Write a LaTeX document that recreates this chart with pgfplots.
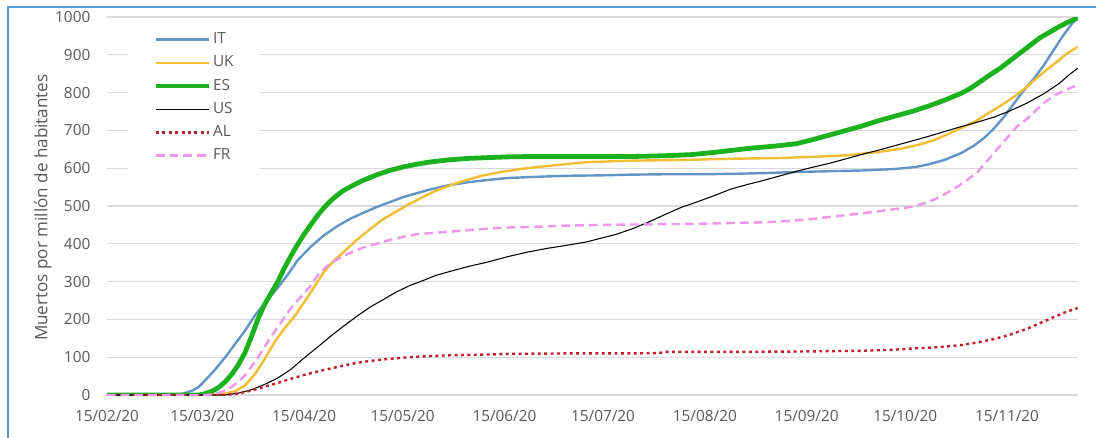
\documentclass[border=0pt]{standalone}
\usepackage{fontspec}
\setmainfont{Open Sans}
\usepackage{pgfplots}
\pgfplotsset{compat=1.18}

\definecolor{itblue}{RGB}{98,148,196}
\definecolor{ukgold}{RGB}{240,190,50}
\definecolor{esgreen}{RGB}{28,178,30}
\definecolor{alred}{RGB}{192,30,45}
\definecolor{frpink}{RGB}{236,150,236}
\definecolor{gridgray}{RGB}{217,217,217}
\definecolor{txtgray}{RGB}{89,89,89}
\definecolor{framebl}{RGB}{91,155,213}

% x = days since 15/02/2020, y = deaths per million inhabitants
\pgfplotstableread{
x y
0 0
20 0
23 3
26 12
28 22
30 40
33 68
36 100
39 135
42 170
45 210
48 243
52 284
55 318
58 356
62 392
66 422
70 446
74 466
78 482
82 497
86 510
90 523
94 533
98 543
104 555
110 563
116 569
122 574
130 577
140 580
150 581
160 583
170 584
180 584
190 585
200 587
210 590
220 592
230 594
240 598
246 603
250 610
255 622
260 640
264 660
267 680
270 705
273 735
276 770
279 805
282 835
285 870
288 910
291 950
294 985
295.5 996
}\tIT

\pgfplotstableread{
x y
0 0
32 0
36 4
39 10
42 25
45 55
48 95
51 140
54 176
57 207
60 245
63 285
66 325
69 355
72 378
76 410
80 438
84 465
88 485
92 505
96 523
100 540
104 553
108 565
114 580
120 590
126 598
132 604
140 611
146 616
160 620
176 622
190 625
205 627
215 630
225 634
235 643
242 652
248 664
252 675
256 690
260 706
264 722
268 744
272 765
276 788
280 815
283 838
286 860
289 880
292 902
295.5 921
}\tUK

\pgfplotstableread{
x y
0 0
28 0
30 4
32 10
34 20
36 35
38 55
40 80
42 112
44 155
46 202
48 240
50 270
52 300
54 336
56 368
58 398
60 425
62 450
64 474
66 495
68 513
70 528
72 541
75 555
78 568
82 582
86 594
90 603
94 610
98 616
104 622
110 626
116 628
122 630
130 631
140 631
150 631
160 631
170 633
178 636
185 642
190 647
195 652
200 656
205 660
210 665
215 676
220 688
225 700
230 712
235 726
240 738
245 750
250 764
255 780
260 798
263 812
266 830
269 848
272 865
275 885
278 905
281 925
284 945
287 960
290 975
293 988
295.5 998
}\tES

\pgfplotstableread{
x y
0 0
36 0
40 5
44 14
48 28
52 45
56 68
60 98
64 126
68 155
72 182
76 208
80 232
84 252
88 272
92 289
96 302
100 316
104 326
110 340
116 352
122 366
128 378
134 388
140 396
146 405
150 414
155 425
160 440
165 458
170 478
175 497
180 512
185 528
190 545
195 557
200 568
205 580
210 592
215 603
220 613
225 625
230 637
235 648
240 660
245 672
250 684
255 697
260 710
265 722
270 735
275 752
280 772
285 796
290 825
293 848
295.5 864
}\tUS

\pgfplotstableread{
x y
0 0
36 0
40 4
44 12
48 22
52 32
56 43
60 53
64 62
68 70
72 78
76 85
80 90
84 94
88 97
92 100
98 103
104 105
115 107
125 109
140 110
160 110
168 111
170 114
190 114
210 115
230 117
240 120
245 123
250 125
255 128
260 132
265 139
270 148
275 160
280 175
284 190
288 205
292 220
295.5 230
}\tAL

\pgfplotstableread{
x y
0 0
30 0
33 3
36 12
38 22
40 35
42 52
44 75
46 100
48 128
50 155
52 180
54 205
56 230
58 250
60 268
62 290
64 315
66 333
68 348
70 358
72 368
74 376
78 390
82 400
86 410
90 418
94 425
98 428
104 432
110 436
116 440
122 443
130 445
140 448
150 450
160 451
170 452
180 453
190 455
200 457
205 459
210 462
215 466
220 471
225 476
230 481
235 486
240 492
245 498
250 510
253 522
256 536
259 552
262 570
265 590
268 620
271 650
274 680
277 710
280 730
283 755
286 778
289 795
292 808
295.5 820
}\tFR

\begin{document}
\begin{tikzpicture}
\useasboundingbox (0,0) rectangle (822pt,327.75pt);
\fill[white] (0,0) rectangle (822pt,327.75pt);
% outer chart frame
\draw[framebl, line width=1.6pt] (6.2pt,-10pt) -- (6.2pt,322.5pt) -- (840pt,322.5pt);

\begin{axis}[
  at={(80.25pt,31.5pt)}, anchor=south west,
  scale only axis, width=728.25pt, height=283.5pt,
  xmin=0, xmax=295.6, ymin=0, ymax=1000,
  axis line style={draw=none},
  major tick style={draw=none},
  ymajorgrids, grid style={gridgray, line width=0.8pt},
  xtick={0,29,60,90,121,151,182,213,243,274},
  xticklabels={15/02/20,15/03/20,15/04/20,15/05/20,15/06/20,15/07/20,15/08/20,15/09/20,15/10/20,15/11/20},
  ytick={0,100,...,1000},
  /pgf/number format/assume math mode=true,
  /pgf/number format/1000 sep={},
  tick label style={font=\fontsize{11.5}{13}\selectfont, text=txtgray},
  yticklabel style={xshift=-9pt},
  xticklabel style={yshift=-8pt},
  legend cell align=left,
  legend image code/.code={\draw[#1] (0pt,0pt) -- (40pt,0pt);},
  legend style={at={(axis description cs:0.0216,0.985)}, anchor=north west,
    draw=none, fill=white, font=\fontsize{11.5}{13}\selectfont, text=txtgray,
    inner xsep=19pt, inner ysep=6pt, row sep=4.4pt,
    nodes={inner sep=1pt, text height=8.5pt, text depth=2.5pt}},
]
\addplot[itblue, line width=1.8pt] table {\tIT};
\addlegendentry{IT}
\addplot[ukgold, line width=1.8pt] table {\tUK};
\addlegendentry{UK}
\addplot[esgreen, line width=3.6pt] table {\tES};
\addlegendentry{ES}
\addplot[black, line width=0.8pt] table {\tUS};
\addlegendentry{US}
\addplot[alred, line width=1.8pt, dash pattern=on 2.2pt off 2.6pt] table {\tAL};
\addlegendentry{AL}
\addplot[frpink, line width=1.8pt, dash pattern=on 6.5pt off 3.8pt] table {\tFR};
\addlegendentry{FR}
\end{axis}

\node[rotate=90, font=\fontsize{12.8}{14}\selectfont, text=txtgray] at (32.25pt,172pt) {Muertos por millón de habitantes};
\end{tikzpicture}
\end{document}
